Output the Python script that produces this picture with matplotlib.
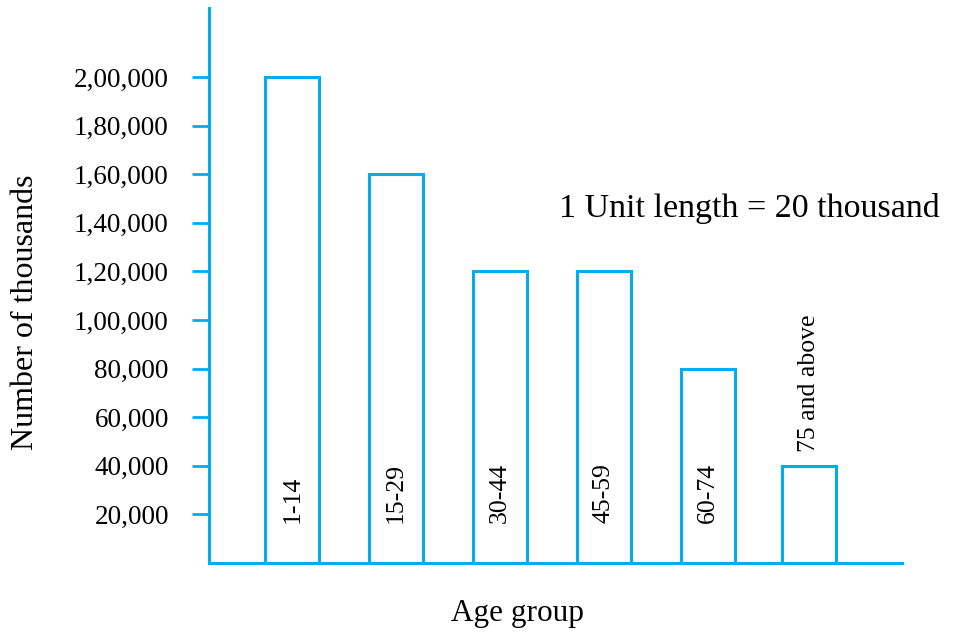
import numpy as np
import matplotlib.pyplot as plt

plt.rcParams['font.family'] = ['Liberation Serif', 'DejaVu Serif']

age_groups = ['1-14', '15-29', '30-44', '45-59', '60-74', '75 and above']
people = [200000, 160000, 120000, 120000, 80000, 40000]
yticks = [20000, 40000, 60000, 80000, 100000, 120000, 140000, 160000, 180000, 200000]
ytick_labels = ['20,000', '40,000', '60,000', '80,000', '1,00,000', '1,20,000',
                '1,40,000', '1,60,000', '1,80,000', '2,00,000']

blue = '#00AEEF'
x = np.array([0, 1, 2, 3, 4, 4.97])

fig = plt.figure(figsize=(9.59, 6.33), dpi=100)
ax = fig.add_axes([0.218, 0.1106, 0.7226, 0.8768])

ax.bar(x, people, width=0.52, facecolor='white', edgecolor=blue, linewidth=2.2)

for xi, lab, val in zip(x, age_groups, people):
    if val > 50000:
        ax.text(xi, 16500, lab, rotation=90, ha='center', va='bottom', fontsize=18.5)
    else:
        ax.text(xi, val + 5500, lab, rotation=90, ha='center', va='bottom', fontsize=18.5)

ax.text(4.40, 146000, '1 Unit length = 20 thousand', ha='center', va='center', fontsize=24.5)

ax.set_xlim(-0.80, 5.87)
ax.set_ylim(0, 228400)
ax.set_xticks([])
ax.set_yticks(yticks)
ax.set_yticklabels(ytick_labels, fontsize=19.5)
ax.tick_params(axis='y', length=12, width=2, color=blue, pad=17)

for side in ['top', 'right']:
    ax.spines[side].set_visible(False)
for side in ['left', 'bottom']:
    ax.spines[side].set_color(blue)
    ax.spines[side].set_linewidth(2.2)

fig.text(0.027, 0.507, 'Number of thousands', rotation=90, ha='center', va='center', fontsize=23)
fig.text(0.540, 0.031, 'Age group', ha='center', va='center', fontsize=22.5)

fig.savefig('out.png', dpi=100)
